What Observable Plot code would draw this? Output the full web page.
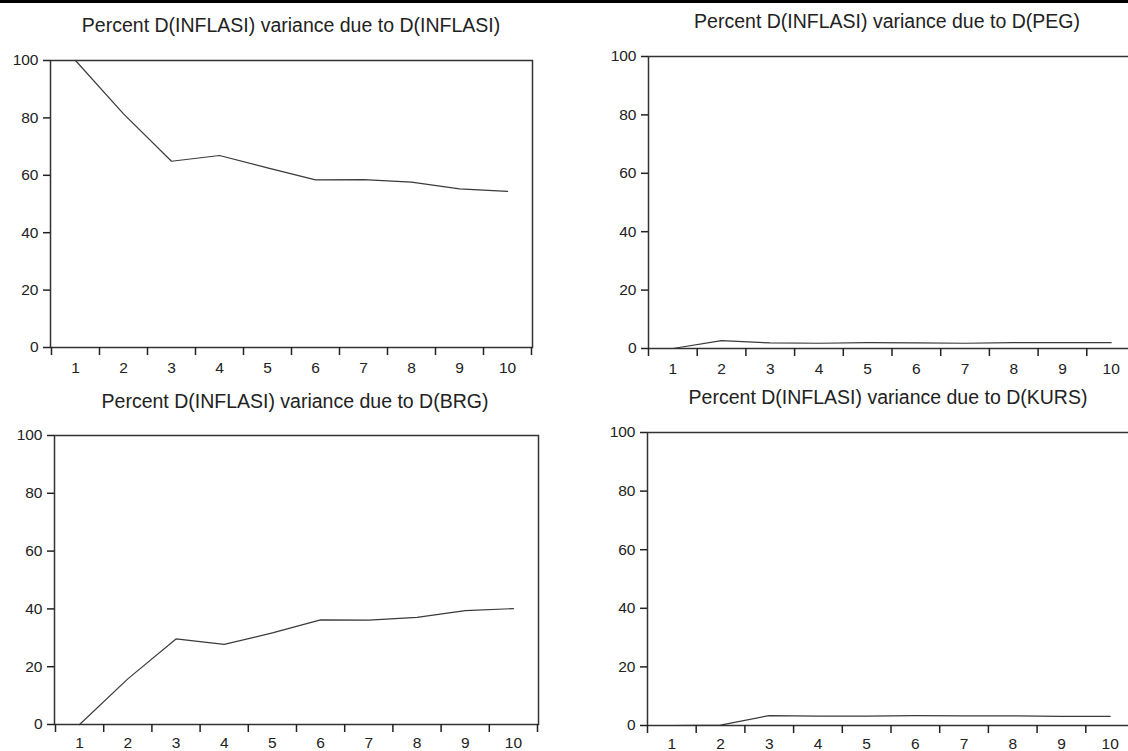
<!DOCTYPE html>
<html>
<head>
<meta charset="utf-8">
<script src="https://cdn.jsdelivr.net/npm/d3@7"></script>
<script src="https://cdn.jsdelivr.net/npm/@observablehq/plot@0.6"></script>
<style>
  html, body { margin: 0; padding: 0; background: #fff; width: 1128px; height: 751px; overflow: hidden; }
  #wrap { position: relative; width: 1128px; height: 751px; overflow: hidden; background: #fff; }
  #rule { position: absolute; left: 0; top: 0; width: 1128px; height: 3px; background: #000; }
  .panel { position: absolute; }
  .panel svg { max-width: none !important; display: block; }
  .title { position: absolute; font-family: "Liberation Sans", Arial, sans-serif; font-size: 19.5px; line-height: 19.5px;
           color: #222; white-space: nowrap; transform: translateX(-50%); }
</style>
</head>
<body>
<div id="wrap"><div id="rule"></div></div>
<script>
// ---- data ----
const periods = [1, 2, 3, 4, 5, 6, 7, 8, 9, 10];
const inflasi = [100, 81.4, 64.9, 66.9, 62.6, 58.4, 58.5, 57.6, 55.3, 54.4];
const peg     = [0, 2.7, 1.9, 1.8, 2.0, 1.9, 1.8, 2.0, 2.0, 2.0];
const brg     = [0, 15.8, 29.6, 27.7, 31.7, 36.2, 36.1, 37.1, 39.4, 40.1];
const kurs    = [0, 0.1, 3.4, 3.2, 3.2, 3.4, 3.3, 3.3, 3.1, 3.1];
const titles  = [
  "Percent D(INFLASI) variance due to D(INFLASI)",
  "Percent D(INFLASI) variance due to D(PEG)",
  "Percent D(INFLASI) variance due to D(BRG)",
  "Percent D(INFLASI) variance due to D(KURS)"
];
const yTicks = [0, 20, 40, 60, 80, 100];

const bounds = periods.map(d => d - 0.5).concat([periods[periods.length - 1] + 0.5]);

// layout of the four panels (page pixels)
const layout = [
  {values: inflasi, title: titles[0], left: 0,   top: 40,  plotRight: 532,  x0: 51,  x1: 531,  plotBottom: 347, titleX: 291, titleTop: 16,  pad: 14},
  {values: peg,     title: titles[1], left: 598, top: 36,  plotRight: 1136, x0: 648, x1: 1135, plotBottom: 348, titleX: 887, titleTop: 12,  pad: 14},
  {values: brg,     title: titles[2], left: 4,   top: 415, plotRight: 538,  x0: 55,  x1: 537,  plotBottom: 724, titleX: 295, titleTop: 392, pad: 12},
  {values: kurs,    title: titles[3], left: 597, top: 412, plotRight: 1135, x0: 647, x1: 1134, plotBottom: 725, titleX: 888, titleTop: 388, pad: 12}
];

const wrap = document.getElementById("wrap");
const mT = 20, mB = 35, mL = 50, mR = 10;
const fs = 15.5;

layout.forEach(p => {
  const width = p.plotRight - p.left + mR;
  const height = p.plotBottom - p.top + mB;
  const rows = periods.map((t, i) => ({t, v: p.values[i]}));
  const chart = Plot.plot({
    width, height,
    marginLeft: mL, marginRight: mR, marginTop: mT, marginBottom: mB,
    x: {domain: [0.5, 10.5], range: [p.x0 - p.left, p.x1 - p.left]},
    y: {domain: [0, 100]},
    style: {fontFamily: "'Liberation Sans', Arial, sans-serif", fontSize: fs + "px", color: "#222", background: "transparent", overflow: "visible"},
    marks: [
      Plot.line(rows, {x: "t", y: "v", stroke: "#3a3a3a", strokeWidth: 1.2}),
      Plot.frame({stroke: "#333", strokeWidth: 1.5}),
      Plot.axisY({ticks: yTicks, tickSize: 7, tickPadding: 5, label: null, strokeWidth: 1.5, fontSize: fs}),
      Plot.axisX({ticks: bounds, tickSize: 8, tickFormat: () => "", label: null, strokeWidth: 1.5}),
      Plot.axisX({ticks: periods, tickSize: 0, tickPadding: p.pad, label: null, fontSize: fs})
    ]
  });
  const div = document.createElement("div");
  div.className = "panel";
  div.style.left = p.left + "px";
  div.style.top = p.top + "px";
  div.style.width = width + "px";
  div.style.height = height + "px";
  div.appendChild(chart);
  wrap.appendChild(div);

  const t = document.createElement("div");
  t.className = "title";
  t.style.left = p.titleX + "px";
  t.style.top = p.titleTop + "px";
  t.textContent = p.title;
  wrap.appendChild(t);
});
</script>
</body>
</html>
